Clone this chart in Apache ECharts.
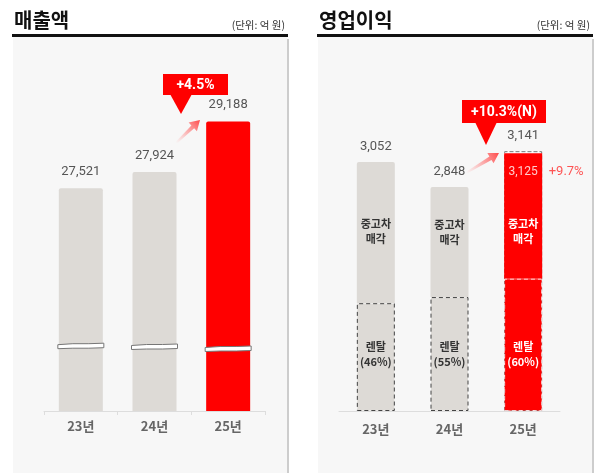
<!DOCTYPE html>
<html>
<head>
<meta charset="utf-8">
<script src="https://cdn.jsdelivr.net/npm/echarts@6/dist/echarts.min.js"></script>
<style>
  html, body { margin: 0; padding: 0; background: #fff; }
  #main { width: 601px; height: 473px; }
</style>
</head>
<body>
<div id="main"></div>
<script>
  // 데이터
  var years = ['23년', '24년', '25년']
  var salesValues = [27521, 27924, 29188] // 매출액
  var salesBreakAt = [23570, 23550, 23500] // 축 생략 표시 위치
  var opTotal = [3052, 2848, 3141] // 영업이익 (25년은 N 기준)
  var opSolid = [3052, 2848, 3125]
  var rentalLevel = [1900, 1950, 2100] // 렌탈 구간 높이
  var rentalShare = [46, 55, 60]
  var salesGrowth = '+4.5%'
  var opGrowth = '+10.3%(N)'
  var solidGrowth = '+9.7%'

  var FONT = "'Noto Sans CJK KR', 'Noto Sans', sans-serif"
  var NUM = "Roboto, 'Noto Sans CJK KR', sans-serif"
  var GRAY = '#dddad6'
  var RED = '#ff0000'

  function fmt(v) {
    return v.toLocaleString('en-US')
  }

  // 화살표 모양
  function arrowPoints(x1, y1, x2, y2) {
    var dx = x2 - x1, dy = y2 - y1
    var len = Math.sqrt(dx * dx + dy * dy)
    var ux = dx / len, uy = dy / len
    var nx = -uy, ny = ux
    var headLen = 10, headW = 6, shaftW = 2
    var bx = x2 - ux * headLen, by = y2 - uy * headLen
    return [
      [x1 + nx * shaftW * 0.5, y1 + ny * shaftW * 0.5],
      [bx + nx * shaftW, by + ny * shaftW],
      [bx + nx * headW, by + ny * headW],
      [x2, y2],
      [bx - nx * headW, by - ny * headW],
      [bx - nx * shaftW, by - ny * shaftW],
      [x1 - nx * shaftW * 0.5, y1 - ny * shaftW * 0.5],
    ]
  }
  function arrow(x1, y1, x2, y2) {
    return {
      type: 'polygon',
      z: 100,
      shape: { points: arrowPoints(x1, y1, x2, y2) },
      style: {
        fill: {
          type: 'linear', x: x1, y: y1, x2: x2, y2: y2, global: true,
          colorStops: [
            { offset: 0, color: 'rgba(255,130,130,0)' },
            { offset: 1, color: '#ff4a4a' },
          ],
        },
      },
    }
  }
  function callout(x, y, w, h, tip, text, size) {
    return {
      type: 'group',
      z: 100,
      children: [
        { type: 'rect', shape: { x: x, y: y, width: w, height: h }, style: { fill: RED } },
        {
          type: 'polygon',
          shape: { points: [[tip[0] - 11, y + h - 1], [tip[0] + 11, y + h - 1], tip] },
          style: { fill: RED },
        },
        {
          type: 'text',
          x: x + w / 2, y: y + h / 2 + 1,
          style: {
            text: text, fill: '#fff', font: 'bold ' + size + 'px ' + NUM,
            align: 'center', verticalAlign: 'middle',
          },
        },
      ],
    }
  }
  function panel(x, title) {
    return [
      { type: 'rect', z: -10, shape: { x: x + 1, y: 37, width: 274, height: 440 }, style: { fill: '#f7f7f7' } },
      { type: 'rect', z: -9, shape: { x: x + 275, y: 39, width: 2, height: 440 }, style: { fill: '#cdcdcd' } },
      { type: 'rect', z: -8, shape: { x: x, y: 34, width: 276, height: 3 }, style: { fill: '#111' } },
      {
        type: 'text', z: -8, x: x + 2, y: 20,
        style: { text: title, font: 'bold 20px ' + FONT, fill: '#111', verticalAlign: 'middle' },
      },
      {
        type: 'text', z: -8, x: x + 273, y: 25,
        style: { text: '(단위: 억 원)', font: '10.5px ' + FONT, fill: '#333', align: 'right', verticalAlign: 'middle' },
      },
    ]
  }

  var chart = echarts.init(document.getElementById('main'))

  var inLabel = function (text, color, offsetY) {
    return {
      show: true, position: 'inside', formatter: text, offset: [0, offsetY],
      color: color, fontFamily: FONT, fontWeight: 'bold', fontSize: 11, lineHeight: 15,
    }
  }
  var usedOffsets = [-1, -10, 15]
  var rentalOffsets = [-3, 0, 9]

  var option = {
    animation: false,
    textStyle: { fontFamily: FONT },
    grid: [
      { left: 44, right: 336, top: 111, bottom: 62 },
      { left: 339, right: 41, top: 111, bottom: 62 },
    ],
    xAxis: [
      {
        type: 'category', gridIndex: 0, data: years,
        axisLine: { lineStyle: { color: '#ddd' } },
        axisTick: { show: true, length: 4, lineStyle: { color: '#ddd' } },
        axisLabel: { color: '#666', fontSize: 13, fontWeight: 'bold', margin: 9, fontFamily: FONT },
      },
      {
        type: 'category', gridIndex: 1, data: years,
        axisLine: { lineStyle: { color: '#ddd' } },
        axisTick: { show: false },
        axisLabel: { color: '#666', fontSize: 13, fontWeight: 'bold', margin: 12, fontFamily: FONT },
      },
    ],
    yAxis: [
      { type: 'value', gridIndex: 0, min: 21950, max: 29450, startValue: 21950, show: false, splitLine: { show: false } },
      { type: 'value', gridIndex: 1, min: 1020, max: 3469, startValue: 1020, show: false, splitLine: { show: false } },
    ],
    series: [
      {
        name: '매출액', type: 'bar', xAxisIndex: 0, yAxisIndex: 0, barWidth: 44,
        data: salesValues.map(function (v, i) {
          return { value: v, itemStyle: { color: i === 2 ? RED : GRAY, borderRadius: [2, 2, 0, 0] } }
        }),
        label: {
          show: true, position: 'top', distance: 10, color: '#555', fontSize: 13, fontFamily: NUM,
          formatter: function (p) { return fmt(p.value) },
        },
      },
      {
        name: '생략', type: 'custom', xAxisIndex: 0, yAxisIndex: 0, z: 5,
        data: salesBreakAt.map(function (v, i) { return [i, v] }),
        renderItem: function (params, api) {
          var c = api.coord([api.value(0), api.value(1)])
          var cx = c[0], cy = c[1]
          return {
            type: 'polygon',
            shape: {
              points: [
                [cx - 23, cy - 1.5], [cx - 8, cy - 2.5], [cx + 8, cy - 2.5], [cx + 23, cy - 3],
                [cx + 23, cy + 1.5], [cx + 8, cy + 2], [cx - 8, cy + 2], [cx - 23, cy + 2.5],
              ],
            },
            style: { fill: '#fff', stroke: '#777', lineWidth: 1 },
          }
        },
      },
      {
        name: '렌탈', type: 'bar', xAxisIndex: 1, yAxisIndex: 1, stack: 'op', barWidth: 38, z: 3,
        data: rentalLevel.map(function (v, i) {
          var red = i === 2
          return {
            value: v,
            itemStyle: {
              color: red ? RED : GRAY,
              borderColor: red ? 'rgba(255,255,255,0.75)' : '#444',
              borderWidth: 1, borderType: [4, 3],
            },
            label: inLabel('렌탈\n(' + rentalShare[i] + '%)', red ? '#fff' : '#333', rentalOffsets[i]),
          }
        }),
      },
      {
        name: '중고차 매각', type: 'bar', xAxisIndex: 1, yAxisIndex: 1, stack: 'op', barWidth: 38, z: 2,
        data: opSolid.map(function (v, i) {
          var red = i === 2
          return {
            value: v - rentalLevel[i],
            itemStyle: { color: red ? RED : GRAY, borderRadius: red ? 0 : [2, 2, 0, 0] },
            label: inLabel('중고차\n매각', red ? '#fff' : '#333', usedOffsets[i]),
          }
        }),
      },
      {
        name: '영업이익', type: 'bar', xAxisIndex: 1, yAxisIndex: 1, barWidth: 38, barGap: '-100%', z: 1,
        data: opTotal.map(function (v, i) {
          var n = i === 2
          return {
            value: v,
            itemStyle: n
              ? { color: '#fff', borderColor: '#777', borderWidth: 1, borderType: [4, 2] }
              : { color: 'rgba(0,0,0,0)' },
          }
        }),
        label: {
          show: true, position: 'top', distance: 9, color: '#555', fontSize: 13, fontFamily: NUM,
          formatter: function (p) { return fmt(p.value) },
        },
      },
      {
        name: '25년 표기', type: 'scatter', xAxisIndex: 1, yAxisIndex: 1, symbolSize: 0, z: 10,
        data: [
          {
            value: [2, opSolid[2]],
            label: { show: true, position: 'inside', offset: [0, 19], formatter: fmt(opSolid[2]), color: '#fff', fontSize: 12, fontFamily: NUM },
          },
          {
            value: [2, opSolid[2]],
            label: { show: true, position: 'inside', offset: [43, 19], formatter: solidGrowth, color: '#ff2a2a', fontSize: 13, fontFamily: NUM },
          },
        ],
      },
    ],
    graphic: []
      .concat(panel(12, '매출액'))
      .concat(panel(317, '영업이익'))
      .concat([
        arrow(176, 143, 200, 120),
        callout(163, 74, 65, 21, [181, 114], salesGrowth, 14),
        arrow(466, 173, 499, 153),
        callout(462, 100, 84, 23, [486, 145], opGrowth, 14),
      ]),
  }

  chart.setOption(option)
</script>
</body>
</html>
